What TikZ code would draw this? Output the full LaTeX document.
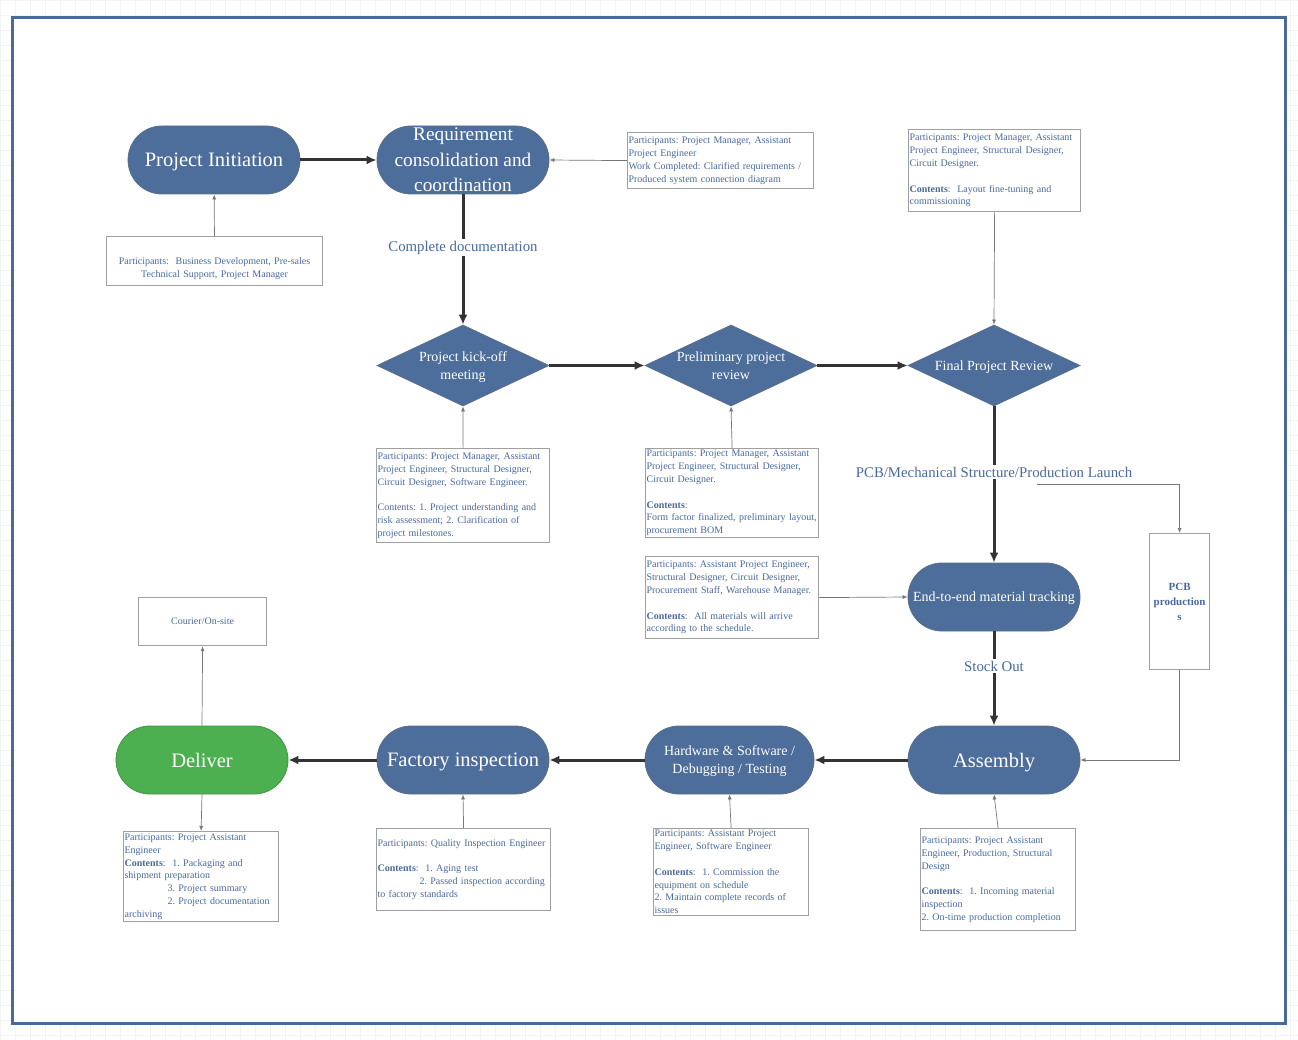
\documentclass[tikz,border=0pt]{standalone}
\usepackage{fontspec}
\setmainfont{Liberation Serif}
\usetikzlibrary{shapes.geometric,arrows.meta}
\definecolor{nodeblue}{HTML}{4D6D9A}
\definecolor{nodeedge}{HTML}{5A6F8C}
\definecolor{txtblue}{HTML}{4A6A99}
\definecolor{dgreen}{HTML}{4CAF50}
\definecolor{frameblue}{HTML}{4A6B9A}
\definecolor{gridc}{HTML}{F1F3F6}
\definecolor{flowc}{HTML}{333333}
\definecolor{slimc}{HTML}{777777}
\definecolor{boxc}{HTML}{A0A0A0}
\frenchspacing
\begin{document}
\begin{tikzpicture}[x=1pt,y=-1pt,
  stad/.style={rectangle, rounded corners=34pt, minimum width=172pt, minimum height=68pt,
    fill=nodeblue, draw=nodeedge, line width=0.8pt, text=white, align=center, inner sep=0pt,
    text depth=0pt},
  dia/.style={diamond, minimum width=172pt, minimum height=81pt, inner sep=0pt,
    fill=nodeblue, draw=nodeedge, line width=0.8pt},
  wtxt/.style={text=white, align=center, font=\fontsize{14}{18}\selectfont, yshift=-1.5pt},
  note/.style={draw=boxc, line width=1.2pt, text=txtblue, align=left, anchor=north west,
    inner sep=1pt, font=\fontsize{10}{12.8}\selectfont},
  flow/.style={draw=flowc, line width=3pt, -{Latex[length=10pt,width=9pt]}},
  slim/.style={draw=slimc, line width=0.7pt, -{Latex[length=5pt,width=4pt]}},
  elab/.style={fill=white, text=txtblue, font=\fontsize{14.8}{17}\selectfont, inner sep=2pt}
]
\useasboundingbox (0,0) rectangle (1298,1040);
\fill[white] (0,0) rectangle (1298,1040);
\draw[gridc, line width=0.5pt, step=15pt] (0,0) grid (1298,1040);
\fill[white] (12,18) rectangle (1285,1023);
\draw[frameblue, line width=3pt] (12,18) rectangle (1285,1023);

% main nodes
\node[stad, font=\fontsize{20.5}{24}\selectfont] (init) at (214,160) {Project Initiation};
\node[stad, label={[text=white, align=center, font=\fontsize{19.3}{25.5}\selectfont]center:Requirement\\consolidation and\\coordination}] (req) at (463,160) {};
\node[dia, label={[wtxt]center:Project kick-off\\meeting}] (kick) at (463,365.5) {};
\node[dia, label={[wtxt, yshift=1.5pt]center:Preliminary project\\review}] (prel) at (731,365.5) {};
\node[dia, label={[wtxt]center:Final Project Review}] (final) at (994,365.5) {};
\node[stad, font=\fontsize{14}{18}\selectfont] (mat) at (994,597) {End-to-end material tracking};
\node[stad, font=\fontsize{20.5}{24}\selectfont] (asm) at (994,760) {Assembly};
\node[stad, minimum width=169pt, font=\fontsize{14}{18}\selectfont] (hw) at (729.5,760) {Hardware \& Software /\\Debugging / Testing};
\node[stad, font=\fontsize{20.5}{24}\selectfont] (fac) at (463,760) {Factory inspection};
\node[stad, fill=dgreen, draw=dgreen!85!black, font=\fontsize{20.5}{24}\selectfont] (del) at (202,760) {Deliver};

% notes
\node[note, align=center, text width=214pt, minimum height=49pt] (ninit) at (106,236)
  {\rule{0pt}{22pt}Participants:\ \ Business Development, Pre-sales\\Technical Support, Project Manager};
\node[note, text width=184pt, minimum height=56pt] (nreq) at (627,132)
  {Participants: Project Manager, Assistant\\Project Engineer\\Work Completed: Clarified requirements /\\Produced system connection diagram};
\node[note, text width=170pt, minimum height=82pt] (nfinal) at (908,129)
  {Participants: Project Manager, Assistant\\Project Engineer, Structural Designer,\\Circuit Designer.\\[12.8pt]\textbf{Contents}:\ \ Layout fine-tuning and\\commissioning};
\node[note, text width=171pt, minimum height=94pt] (nkick) at (376,448)
  {Participants: Project Manager, Assistant\\Project Engineer, Structural Designer,\\Circuit Designer, Software Engineer.\\[12.8pt]Contents: 1. Project understanding and\\risk assessment; 2. Clarification of\\project milestones.};
\node[note, text width=171pt, minimum height=89pt] (nprel) at (645,448)
  {Participants: Project Manager, Assistant\\Project Engineer, Structural Designer,\\Circuit Designer.\\[12.8pt]\textbf{Contents}:\\Form factor finalized, preliminary layout,\\procurement BOM};
\node[note, text width=171pt, minimum height=82pt] (nmat) at (645,556)
  {Participants: Assistant Project Engineer,\\Structural Designer, Circuit Designer,\\Procurement Staff, Warehouse Manager.\\[12.8pt]\textbf{Contents}:\ \ All materials will arrive\\according to the schedule.};
\node[note, align=center, text width=58pt, minimum height=136pt, font=\bfseries\fontsize{11}{15}\selectfont] (pcb) at (1149,533)
  {PCB\\production\\s};
\node[note, align=center, text width=126pt, minimum height=48pt] (cour) at (138,597) {Courier/On-site};
\node[note, text width=153pt, minimum height=90pt] (ndel) at (123,831)
  {Participants: Project Assistant\\Engineer\\\textbf{Contents}:\ \ 1. Packaging and\\shipment preparation\\\hspace*{43pt}3. Project summary\\\hspace*{43pt}2. Project documentation\\archiving};
\node[note, text width=172pt, minimum height=82pt] (nfac) at (376,828)
  {Participants: Quality Inspection Engineer\\[12.8pt]\textbf{Contents}:\ \ 1. Aging test\\\hspace*{42pt}2. Passed inspection according\\to factory standards};
\node[note, text width=153pt, minimum height=87pt] (nhw) at (653,828)
  {Participants: Assistant Project\\Engineer, Software Engineer\\[12.8pt]\textbf{Contents}:\ \ 1. Commission the\\equipment on schedule\\2. Maintain complete records of\\issues};
\node[note, text width=153pt, minimum height=102pt] (nasm) at (920,828)
  {Participants: Project Assistant\\Engineer, Production, Structural\\Design\\[12.8pt]\textbf{Contents}:\ \ 1. Incoming material\\inspection\\2. On-time production completion};

% main flow
\draw[flow] (init) -- (req);
\draw[flow] (req) -- node[elab, pos=0.41] {Complete documentation} (kick);
\draw[flow] (kick) -- (prel);
\draw[flow] (prel) -- (final);
\draw[flow] (final) -- node[elab, pos=0.42] (lpcb) {PCB/Mechanical Structure/Production Launch} (mat);
\draw[flow] (mat) -- node[elab, pos=0.37] {Stock Out} (asm);
\draw[flow] (asm) -- (hw);
\draw[flow] (hw) -- (fac);
\draw[flow] (fac) -- (del);

% thin connectors
\coordinate (pcbstart) at (1037,484);
\draw[slim] (pcbstart) -| (pcb.north);
\draw[slim] (pcb.south) |- (asm.east);
\draw[slim] (ninit) -- (init);
\draw[slim] (nreq.west) -- (req.east);
\draw[slim] (nfinal.south) -- (final.north);
\draw[slim] (nkick.north) -- (kick.south);
\draw[slim] (nprel.north) -- (prel.south);
\draw[slim] (nmat.east) -- (mat.west);
\draw[slim] (del.north) -- (cour.south);
\draw[slim] (del.south) -- (ndel.north);
\draw[slim] (nfac.north) -- (fac.south);
\draw[slim] (nhw.north) -- (hw.south);
\draw[slim] (nasm.north) -- (asm.south);
\end{tikzpicture}
\end{document}
